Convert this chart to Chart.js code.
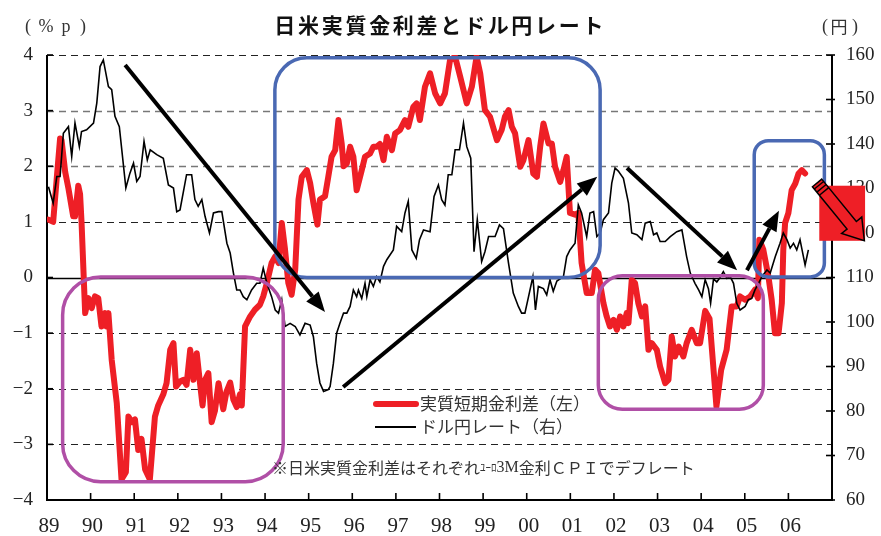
<!DOCTYPE html>
<html>
<head>
<meta charset="utf-8">
<script src="https://cdn.jsdelivr.net/npm/chart.js@4.4.1/dist/chart.umd.min.js"></script>
<style>
  html, body { margin: 0; padding: 0; background: #fff; }
</style>
</head>
<body>
<canvas id="chart" width="881" height="536"></canvas>
<script>
// x values are months since Jan 1989
const yearLabels = ['89', '90', '91', '92', '93', '94', '95', '96', '97', '98', '99', '00', '01', '02', '03', '04', '05', '06'];
const leftTicks = [-4, -3, -2, -1, 0, 1, 2, 3, 4];
const rightTicks = [60, 70, 80, 90, 100, 110, 120, 130, 140, 150, 160];

// 実質短期金利差 (left axis, %p)
const spreadMonth = [
  0.4, 1.7, 2.7, 3.6, 4.0, 5.0, 5.9, 7.2, 7.7, 8.6, 9.1, 9.5, 10.5, 11.4, 12.3, 13.2, 14.1, 15.0, 16.0, 16.4,
  16.9, 17.8, 19.2, 20.5, 21.7, 22.4, 23.3, 24.2, 25.1, 26.0, 27.0, 28.3, 29.7, 30.6, 32.0, 32.9, 33.9, 34.8, 35.5, 36.6,
  37.5, 38.4, 39.4, 40.3, 41.2, 42.1, 42.8, 43.5, 44.4, 45.3, 46.2, 47.2, 48.5, 49.4, 50.4, 51.3, 52.2, 53.1, 53.6, 54.5,
  55.9, 57.2, 58.6, 59.5, 60.5, 61.8, 62.8, 63.7, 64.6, 65.5, 66.4, 67.3, 68.3, 69.2, 70.1, 71.5, 72.4, 73.3, 74.4, 75.1,
  76.5, 77.4, 78.3, 79.3, 80.2, 81.1, 81.6, 82.5, 83.4, 84.3, 85.2, 86.6, 87.5, 88.9, 89.8, 90.7, 91.6, 92.6, 93.5, 94.9,
  95.8, 97.1, 98.5, 99.4, 100.8, 101.7, 102.6, 104.0, 105.4, 106.8, 108.2, 109.5, 110.9, 112.3, 113.7, 115.5, 116.9, 118.2, 119.2, 120.5,
  121.9, 123.8, 125.1, 126.0, 127.0, 127.9, 128.8, 130.2, 131.1, 132.5, 133.8, 134.8, 135.7, 136.6, 138.0, 138.9, 139.8, 141.2, 142.1, 143.0,
  143.9, 145.3, 146.2, 147.1, 148.5, 149.9, 150.8, 151.7, 153.1, 154.0, 154.9, 155.9, 156.8, 157.7, 158.6, 159.5, 160.0, 160.9, 161.8, 162.7,
  163.7, 164.6, 165.5, 166.4, 167.8, 168.7, 170.1, 171.0, 171.9, 172.8, 173.8, 175.1, 176.0, 177.4, 178.8, 179.7, 181.1, 182.3, 184.2, 185.5,
  187.0, 188.4, 189.8, 190.7, 192.1, 193.5, 194.8, 195.6, 196.0, 197.1, 198.5, 199.4, 200.3, 201.3, 202.2, 202.6, 203.1, 204.0, 204.9, 205.9,
  206.8, 207.7, 208.6
];
const spreadValue = [
  1.04, 1.0, 1.8, 2.5, 2.47, 1.9, 1.6, 1.1, 1.1, 1.65, 1.5, 1.0, -0.64, -0.37, -0.55, -0.34, -0.37, -0.88, -0.64, -0.88,
  -0.64, -1.48, -2.26, -3.63, -3.5, -2.5, -2.6, -2.55, -3.1, -2.9, -3.45, -3.63, -2.5, -2.3, -2.1, -1.9, -1.3, -1.18, -1.96, -1.87,
  -1.84, -1.93, -1.3, -1.84, -1.36, -1.9, -2.3, -1.84, -1.72, -2.6, -2.4, -1.9, -2.37, -2.05, -1.89, -2.2, -2.33, -2.1, -2.3, -0.88,
  -0.7, -0.58, -0.49, -0.34, -0.1, 0.26, 0.38, 0.26, 0.98, 0.5, -0.1, -0.31, 0.14, 1.4, 1.81, 1.93, 1.7, 1.34, 0.95, 1.4,
  1.46, 1.81, 2.17, 2.29, 2.83, 2.4, 2.0, 2.05, 2.35, 2.17, 1.57, 1.93, 2.17, 2.23, 2.35, 2.35, 2.4, 2.11, 2.53, 2.29,
  2.59, 2.65, 2.83, 2.71, 3.07, 3.13, 2.83, 3.43, 3.67, 3.31, 3.13, 3.31, 3.91, 3.97, 3.61, 3.13, 3.43, 3.97, 3.67, 3.01,
  2.89, 2.47, 2.65, 2.89, 3.01, 2.71, 2.59, 1.99, 2.11, 2.47, 1.87, 1.81, 2.35, 2.77, 2.41, 2.41, 1.99, 1.72, 1.93, 2.17,
  1.16, 1.13, 1.16, 0.26, -0.28, -0.28, 0.14, 0.08, -0.46, -0.7, -0.88, -0.76, -0.94, -0.7, -0.88, -0.64, -0.82, -0.04, -0.1, -0.46,
  -0.7, -0.52, -1.3, -1.18, -1.3, -1.6, -1.9, -1.84, -1.06, -1.42, -1.24, -1.42, -1.18, -0.94, -1.18, -1.18, -0.6, -0.74, -2.32, -1.66,
  -1.3, -0.52, -0.52, -0.34, -0.4, -0.34, -0.22, -0.37, 0.68, 0.5, 0.02, -0.4, -1.0, -1.0, -0.46, 0.5, 0.98, 1.16, 1.57, 1.69,
  1.87, 1.93, 1.87
];

// ドル円レート (right axis, yen)
const fxMonth = [
  0.4, 1.7, 2.7, 3.6, 4.5, 5.9, 6.8, 7.7, 8.9, 9.5, 10.9, 12.8, 13.7, 14.6, 15.5, 16.9, 17.8, 18.7, 19.9, 21.7,
  22.8, 23.8, 24.7, 25.6, 26.7, 27.6, 28.4, 30.2, 32.0, 33.4, 34.8, 35.7, 36.6, 38.4, 39.8, 40.7, 41.6, 42.6, 43.5, 44.7,
  45.8, 47.2, 48.1, 49.5, 50.4, 51.3, 52.2, 53.1, 54.0, 55.0, 56.3, 57.7, 58.6, 59.5, 60.5, 61.8, 62.8, 63.7, 64.6, 65.5,
  66.9, 68.3, 69.6, 71.0, 72.4, 73.3, 74.2, 75.1, 76.1, 77.4, 77.9, 78.8, 79.7, 80.6, 81.6, 82.5, 83.4, 84.3, 85.2, 85.7,
  86.6, 87.5, 88.0, 88.9, 89.8, 90.7, 91.6, 92.6, 93.5, 95.3, 96.2, 97.6, 98.5, 99.4, 100.4, 101.6, 102.5, 103.6, 105.4, 106.5,
  107.7, 108.6, 109.5, 110.4, 111.4, 112.3, 113.5, 114.6, 115.5, 116.6, 117.5, 118.4, 119.6, 120.5, 121.5, 123.3, 124.5, 125.6, 127.0, 128.3,
  129.7, 130.6, 131.5, 132.5, 133.7, 134.4, 135.2, 136.6, 137.5, 138.4, 139.3, 140.3, 142.1, 143.0, 143.9, 145.3, 146.2, 147.1, 148.5, 149.4,
  150.4, 151.3, 152.2, 153.1, 154.5, 155.4, 156.3, 157.2, 158.6, 160.0, 160.9, 162.3, 163.7, 164.6, 166.0, 166.9, 167.8, 168.7, 170.1, 171.5,
  173.3, 174.7, 176.0, 177.0, 178.3, 179.3, 180.2, 181.1, 182.0, 182.6, 183.4, 184.3, 185.2, 186.1, 187.1, 188.0, 188.9, 189.8, 190.7, 192.1,
  193.0, 193.9, 194.8, 195.8, 196.7, 198.1, 199.0, 200.4, 201.7, 202.6, 203.6, 204.5, 205.4, 206.3, 207.2, 208.6, 209.5
];
const fxValue = [
  130.4, 126.7, 132.7, 132.7, 142.4, 143.9, 137.2, 144.7, 139.4, 142.8, 143.2, 144.7, 149.2, 157.4, 158.9, 152.9, 152.2, 146.2, 143.9, 130.1,
  133.4, 135.7, 131.6, 132.7, 140.6, 136.4, 138.7, 137.6, 136.8, 130.8, 130.1, 124.8, 125.2, 133.1, 133.1, 127.5, 126.0, 127.5, 123.7, 120.0,
  124.5, 124.8, 124.8, 117.7, 115.5, 111.0, 107.2, 107.2, 105.7, 105.0, 107.2, 108.7, 108.7, 112.1, 108.7, 105.7, 102.7, 102.0, 105.0, 99.0,
  99.7, 99.0, 97.1, 99.7, 99.3, 96.7, 90.7, 86.3, 84.4, 84.8, 85.5, 90.7, 97.5, 99.7, 102.0, 102.0, 103.5, 107.2, 105.7, 107.2,
  105.3, 108.7, 105.7, 109.5, 108.0, 110.2, 109.0, 112.5, 114.0, 116.2, 121.5, 120.3, 124.5, 127.1, 116.2, 114.3, 118.5, 120.7, 120.3, 128.2,
  130.8, 127.5, 126.3, 133.1, 133.1, 138.7, 138.7, 144.7, 139.4, 136.8, 115.8, 123.0, 113.6, 115.8, 119.2, 119.2, 121.8, 121.0, 113.2, 106.5,
  103.5, 102.0, 102.0, 105.7, 110.2, 102.7, 108.0, 107.5, 106.1, 109.5, 106.9, 109.2, 110.2, 114.7, 116.2, 117.7, 126.3, 124.5, 119.2, 124.5,
  124.8, 119.2, 120.0, 123.0, 124.5, 131.2, 134.6, 133.9, 132.3, 126.7, 120.0, 119.6, 118.5, 122.2, 122.6, 119.6, 120.0, 118.1, 118.1, 119.2,
  120.3, 120.7, 114.7, 111.0, 108.7, 107.2, 105.7, 109.5, 107.5, 104.2, 109.7, 109.0, 110.0, 111.3, 109.8, 110.2, 108.7, 104.2, 102.7, 103.5,
  105.0, 105.3, 107.2, 108.7, 110.2, 111.7, 111.0, 114.7, 117.7, 120.0, 118.5, 116.6, 117.7, 116.2, 118.5, 112.8, 116.2
];

// annotation shapes, in data units (month, left-axis value)
const blueBoxes = [
  { m1: 62.7, m2: 152.2, v1: 3.95, v2: 0.0, r: 32 },
  { m1: 194.6, m2: 213.9, v1: 2.46, v2: 0.01, r: 14 }
];
const purpleBoxes = [
  { m1: 4.3, m2: 65.0, v1: 0.01, v2: -3.67, r: 38 },
  { m1: 151.7, m2: 197.1, v1: 0.03, v2: -2.37, r: 24 }
];
const trendArrows = [
  { m1: 21.5, v1: 3.82, m2: 76.5, v2: -0.62 },
  { m1: 81.5, v1: -1.97, m2: 151.4, v2: 1.81 },
  { m1: 159.6, v1: 1.97, m2: 189.9, v2: 0.13 },
  { m1: 192.6, v1: 0.13, m2: 201.4, v2: 1.2 }
];
const redBlock = { m1: 212.5, m2: 225.1, v1: 1.65, v2: 0.66 };
const redBlockArrow = { m1: 211.9, v1: 1.70, m2: 224.9, v2: 0.66 };

const RED = '#ee1f26';
const BLUE = '#4a69b3';
const PURPLE = '#b04fa6';
const SERIF = '"Liberation Serif", "Noto Sans CJK JP", serif';
const JP = '"Noto Sans CJK JP", sans-serif';

function roundBox(ctx, x1, y1, x2, y2, r) {
  ctx.beginPath();
  ctx.moveTo(x1 + r, y1);
  ctx.arcTo(x2, y1, x2, y2, r);
  ctx.arcTo(x2, y2, x1, y2, r);
  ctx.arcTo(x1, y2, x1, y1, r);
  ctx.arcTo(x1, y1, x2, y1, r);
  ctx.closePath();
  ctx.stroke();
}

function arrow(ctx, x1, y1, x2, y2) {
  const ang = Math.atan2(y2 - y1, x2 - x1);
  const head = 20, half = 8;
  const bx = x2 - head * Math.cos(ang), by = y2 - head * Math.sin(ang);
  ctx.lineWidth = 4;
  ctx.beginPath();
  ctx.moveTo(x1, y1);
  ctx.lineTo(bx, by);
  ctx.stroke();
  ctx.beginPath();
  ctx.moveTo(x2, y2);
  ctx.lineTo(bx + half * Math.sin(ang), by - half * Math.cos(ang));
  ctx.lineTo(bx - half * Math.sin(ang), by + half * Math.cos(ang));
  ctx.closePath();
  ctx.fill();
}

const framePlugin = {
  id: 'frame',
  beforeDatasetsDraw(chart) {
    const { ctx, chartArea: a, scales: { x, yL, yR } } = chart;
    ctx.save();
    leftTicks.forEach(v => {
      if (v === -4) return;
      const py = Math.round(yL.getPixelForValue(v)) + 0.5;
      ctx.beginPath();
      if (v === 0) {
        ctx.setLineDash([]);
        ctx.strokeStyle = '#000';
        ctx.lineWidth = 1.6;
      } else {
        ctx.setLineDash([7, 5]);
        ctx.strokeStyle = (v === 2 || v === 3) ? '#777' : '#222';
        ctx.lineWidth = (v === 2 || v === 3) ? 1.4 : 1;
      }
      ctx.moveTo(a.left, py);
      ctx.lineTo(a.right, py);
      ctx.stroke();
    });
    ctx.setLineDash([]);
    ctx.strokeStyle = '#000';
    ctx.lineWidth = 2;
    ctx.beginPath();
    ctx.moveTo(a.left, a.top);
    ctx.lineTo(a.left, a.bottom);
    ctx.lineTo(a.right, a.bottom);
    ctx.lineTo(a.right, a.top);
    ctx.stroke();
    ctx.lineWidth = 1.6;
    leftTicks.forEach(v => {
      const py = yL.getPixelForValue(v);
      ctx.beginPath(); ctx.moveTo(a.left, py); ctx.lineTo(a.left + 6, py); ctx.stroke();
    });
    rightTicks.forEach(v => {
      const py = yR.getPixelForValue(v);
      ctx.beginPath(); ctx.moveTo(a.right - 6, py); ctx.lineTo(a.right + 3, py); ctx.stroke();
    });
    for (let m = 0; m <= 216; m += 12) {
      const px = x.getPixelForValue(m);
      ctx.beginPath(); ctx.moveTo(px, a.bottom); ctx.lineTo(px, a.bottom - 7); ctx.stroke();
    }
    ctx.restore();
  },
  afterDatasetsDraw(chart) {
    const { ctx, scales: { x, yL } } = chart;
    const X = m => x.getPixelForValue(m);
    const Y = v => yL.getPixelForValue(v);
    ctx.save();
    ctx.lineWidth = 3.5;
    ctx.strokeStyle = BLUE;
    blueBoxes.forEach(b => roundBox(ctx, X(b.m1), Y(b.v1), X(b.m2), Y(b.v2), b.r));
    ctx.strokeStyle = PURPLE;
    purpleBoxes.forEach(b => roundBox(ctx, X(b.m1), Y(b.v1), X(b.m2), Y(b.v2), b.r));
    ctx.strokeStyle = '#000';
    ctx.fillStyle = '#000';
    ctx.lineCap = 'butt';
    trendArrows.forEach(t => arrow(ctx, X(t.m1), Y(t.v1), X(t.m2), Y(t.v2)));
    ctx.restore();
  },
  afterDraw(chart) {
    const { ctx, scales: { x, yL } } = chart;
    const X = m => x.getPixelForValue(m);
    const Y = v => yL.getPixelForValue(v);
    ctx.save();

    // red block + clip-art arrow at the right edge
    ctx.fillStyle = RED;
    ctx.fillRect(X(redBlock.m1), Y(redBlock.v1), X(redBlock.m2) - X(redBlock.m1), Y(redBlock.v2) - Y(redBlock.v1));
    const tx = X(redBlockArrow.m1), ty = Y(redBlockArrow.v1);
    const hx = X(redBlockArrow.m2), hy = Y(redBlockArrow.v2);
    const len = Math.hypot(hx - tx, hy - ty);
    ctx.translate(tx, ty);
    ctx.rotate(Math.atan2(hy - ty, hx - tx));
    ctx.beginPath();
    ctx.moveTo(0, -6); ctx.lineTo(len - 20, -6); ctx.lineTo(len - 20, -13);
    ctx.lineTo(len, 0);
    ctx.lineTo(len - 20, 13); ctx.lineTo(len - 20, 6); ctx.lineTo(0, 6);
    ctx.closePath();
    ctx.fillStyle = RED;
    ctx.fill();
    ctx.strokeStyle = '#000';
    ctx.lineWidth = 1.5;
    ctx.stroke();
    ctx.lineWidth = 1.4;
    [3, 7, 11].forEach(s => {
      ctx.beginPath(); ctx.moveTo(s, -6); ctx.lineTo(s, 6); ctx.stroke();
    });
    ctx.setTransform(1, 0, 0, 1, 0, 0);

    // title
    const title = '日米実質金利差とドル円レート';
    ctx.fillStyle = '#111';
    ctx.font = 'bold 21px ' + JP;
    ctx.textAlign = 'center';
    ctx.textBaseline = 'middle';
    const pitch = 23.7, t0 = 273;
    [...title].forEach((ch, i) => ctx.fillText(ch, t0 + pitch * (i + 0.5), 25));

    // axis units
    ctx.fillStyle = '#333';
    ctx.font = '18px ' + SERIF;
    [['(', 28], ['%', 46], ['p', 66], [')', 83]].forEach(([c, px]) => ctx.fillText(c, px, 27));
    [['(', 825], [')', 855]].forEach(([c, px]) => ctx.fillText(c, px, 27));
    ctx.font = '17px ' + JP;
    ctx.fillText('円', 839, 27);

    // legend
    const ds = chart.data.datasets;
    ctx.lineCap = 'round';
    ctx.strokeStyle = ds[0].borderColor;
    ctx.lineWidth = 6;
    ctx.beginPath(); ctx.moveTo(376, 404); ctx.lineTo(416, 404); ctx.stroke();
    ctx.strokeStyle = ds[1].borderColor;
    ctx.lineWidth = 2;
    ctx.lineCap = 'butt';
    ctx.beginPath(); ctx.moveTo(375, 427); ctx.lineTo(416, 427); ctx.stroke();
    ctx.fillStyle = '#333';
    ctx.font = '17px ' + JP;
    ctx.textAlign = 'left';
    ctx.fillText(ds[0].label, 420, 404);
    ctx.fillText(ds[1].label, 420, 427);

    // footnote
    let nx = 272;
    const ny = 468;
    const part = (s, f) => { ctx.font = f; ctx.fillText(s, nx, ny); nx += ctx.measureText(s).width; };
    part('※日米実質金利差はそれぞれ', '16px ' + JP);
    part('ﾕｰﾛ', '11px ' + JP);
    part('3M', '16px ' + SERIF);
    part('金利ＣＰＩでデフレート', '16px ' + JP);
    ctx.restore();
  }
};

const toPoints = (xs, ys) => xs.map((m, i) => ({ x: m, y: ys[i] }));

new Chart(document.getElementById('chart'), {
  type: 'line',
  data: {
    datasets: [
      {
        label: '実質短期金利差（左）',
        data: toPoints(spreadMonth, spreadValue),
        yAxisID: 'yL',
        borderColor: RED,
        borderWidth: 6,
        borderJoinStyle: 'round',
        borderCapStyle: 'round',
        pointRadius: 0,
        tension: 0,
        order: 2
      },
      {
        label: 'ドル円レート（右）',
        data: toPoints(fxMonth, fxValue),
        yAxisID: 'yR',
        borderColor: '#000',
        borderWidth: 1.6,
        pointRadius: 0,
        tension: 0,
        order: 1
      }
    ]
  },
  options: {
    responsive: false,
    animation: false,
    layout: { padding: { top: 55, left: 0, right: 0, bottom: 0 } },
    plugins: { legend: { display: false }, tooltip: { enabled: false } },
    scales: {
      x: {
        type: 'linear',
        min: 0,
        max: 216,
        afterFit: s => { s.height = 36; },
        afterBuildTicks: s => { s.ticks = yearLabels.map((_, i) => ({ value: i * 12 })); },
        ticks: {
          callback: v => yearLabels[v / 12],
          autoSkip: false,
          maxRotation: 0,
          padding: 14,
          labelOffset: 2,
          color: '#222',
          font: { family: SERIF, size: 21 }
        },
        grid: { display: false, drawTicks: false },
        border: { display: false }
      },
      yL: {
        position: 'left',
        min: -4,
        max: 4,
        afterFit: s => { s.width = 47; },
        afterBuildTicks: s => { s.ticks = leftTicks.map(v => ({ value: v })); },
        ticks: {
          callback: v => (v < 0 ? '−' + Math.abs(v) : String(v)),
          padding: 14,
          color: '#222',
          font: { family: SERIF, size: 19 }
        },
        grid: { display: false, drawTicks: false },
        border: { display: false }
      },
      yR: {
        position: 'right',
        min: 60,
        max: 160,
        afterFit: s => { s.width = 49; },
        afterBuildTicks: s => { s.ticks = rightTicks.map(v => ({ value: v })); },
        ticks: {
          padding: 14,
          color: '#222',
          font: { family: SERIF, size: 19 }
        },
        grid: { display: false, drawTicks: false },
        border: { display: false }
      }
    }
  },
  plugins: [framePlugin]
});
</script>
</body>
</html>
